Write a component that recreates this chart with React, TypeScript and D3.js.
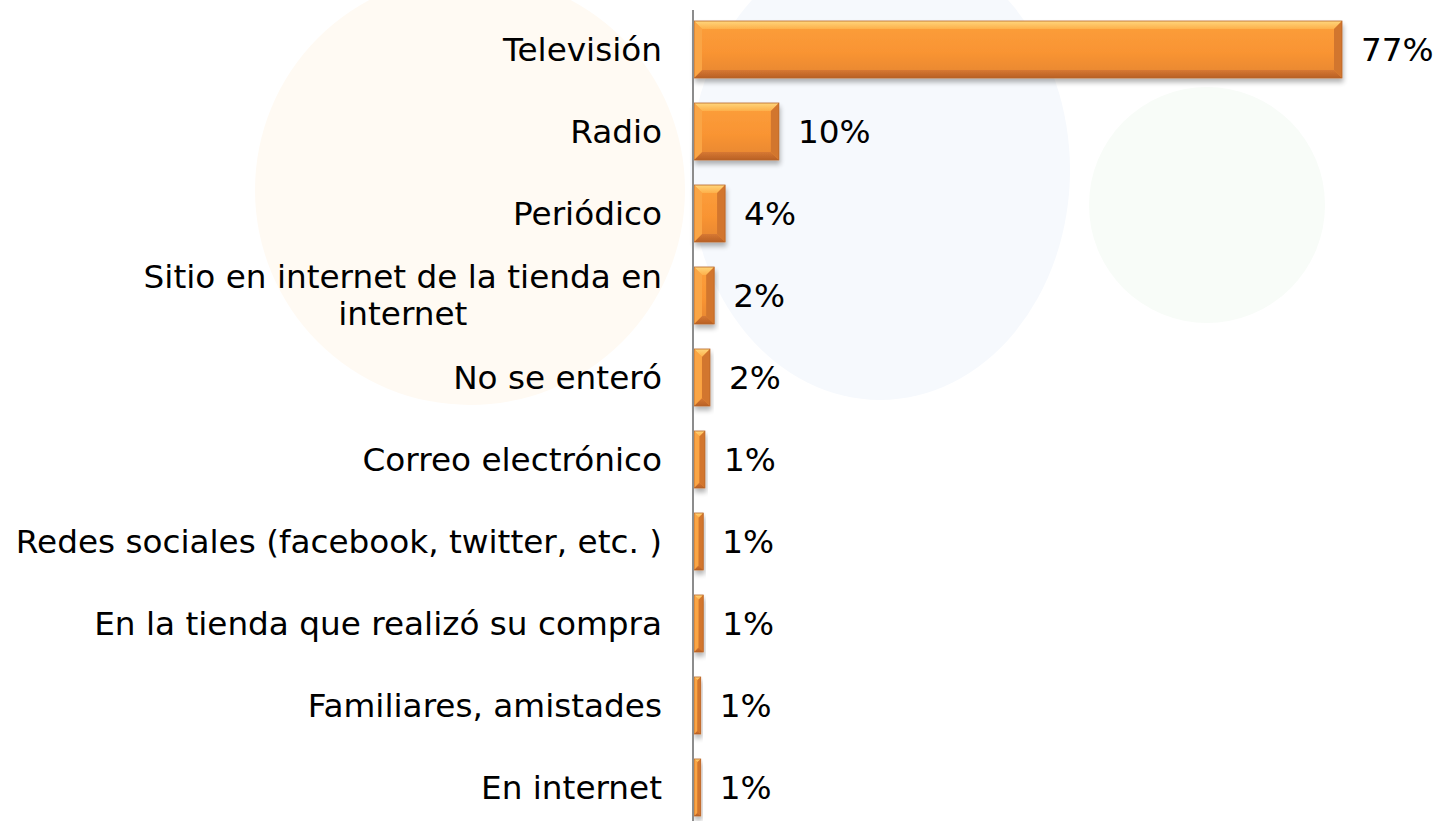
import React, { useEffect, useRef } from "react";
import * as d3 from "d3";

const categories: string[][] = [
  ["Televisión"],
  ["Radio"],
  ["Periódico"],
  ["Sitio en internet de la tienda en", "internet"],
  ["No se enteró"],
  ["Correo electrónico"],
  ["Redes sociales (facebook, twitter, etc. )"],
  ["En la tienda que realizó su compra"],
  ["Familiares, amistades"],
  ["En internet"],
];
const values: number[] = [77.1, 10.1, 3.7, 2.4, 1.9, 1.3, 1.1, 1.1, 0.8, 0.8];
const valueLabels: string[] = ["77%", "10%", "4%", "2%", "2%", "1%", "1%", "1%", "1%", "1%"];

const W = 1441;
const H = 821;
const FONT = "'DejaVu Sans', Verdana, sans-serif";
const FS = 32.7;

export default function App() {
  const ref = useRef<SVGSVGElement | null>(null);

  useEffect(() => {
    const svg = d3.select(ref.current);
    svg.selectAll("*").remove();

    const defs = svg.append("defs");
    const sh = defs.append("filter").attr("id", "shadow").attr("x", "-20%").attr("y", "-20%").attr("width", "140%").attr("height", "160%");
    sh.append("feGaussianBlur").attr("in", "SourceAlpha").attr("stdDeviation", 2.5).attr("result", "b");
    sh.append("feOffset").attr("in", "b").attr("dx", 1).attr("dy", 4).attr("result", "o");
    sh.append("feComponentTransfer").attr("in", "o").attr("result", "o2")
      .append("feFuncA").attr("type", "linear").attr("slope", 0.3);
    const m = sh.append("feMerge");
    m.append("feMergeNode").attr("in", "o2");
    m.append("feMergeNode").attr("in", "SourceGraphic");

    const face = defs.append("linearGradient").attr("id", "face").attr("x1", 0).attr("y1", 0).attr("x2", 0).attr("y2", 1);
    face.append("stop").attr("offset", "0%").attr("stop-color", "#FC9F3C");
    face.append("stop").attr("offset", "55%").attr("stop-color", "#F99433");
    face.append("stop").attr("offset", "100%").attr("stop-color", "#E5852F");
    const top = defs.append("linearGradient").attr("id", "topb").attr("x1", 0).attr("y1", 0).attr("x2", 0).attr("y2", 1);
    top.append("stop").attr("offset", "0%").attr("stop-color", "#FFD67C");
    top.append("stop").attr("offset", "100%").attr("stop-color", "#FDB04A");
    const bot = defs.append("linearGradient").attr("id", "botb").attr("x1", 0).attr("y1", 0).attr("x2", 0).attr("y2", 1);
    bot.append("stop").attr("offset", "0%").attr("stop-color", "#D77832");
    bot.append("stop").attr("offset", "100%").attr("stop-color", "#B86026");

    // faint watermark background
    const bg = svg.append("g");
    bg.append("rect").attr("width", W).attr("height", H).attr("fill", "#ffffff");
    bg.append("circle").attr("cx", 470).attr("cy", 190).attr("r", 215).attr("fill", "#FFFAF3");
    bg.append("ellipse").attr("cx", 880).attr("cy", 170).attr("rx", 190).attr("ry", 230).attr("fill", "#F6F9FD");
    bg.append("circle").attr("cx", 1207).attr("cy", 205).attr("r", 118).attr("fill", "#F8FCF8");

    const x = d3.scaleLinear().domain([0, 80]).range([694, 694 + 80 * (648 / 77.1)]);
    const y = d3.scaleBand<number>()
      .domain(d3.range(categories.length))
      .range([8.5, 828.5])
      .paddingInner(0.305)
      .paddingOuter(0.1525);

    const bars = svg.append("g").selectAll("g").data(values).join("g").attr("filter", "url(#shadow)");
    bars.each(function (v, i) {
      const g = d3.select(this);
      const x0 = x(0), x1 = x(v);
      const y0 = y(i)!, y1 = y0 + y.bandwidth();
      const b = Math.min(8, (x1 - x0) / 2);
      const poly = (pts: number[][]) => pts.map((p) => p.join(",")).join(" ");
      g.append("rect").attr("x", x0).attr("y", y0).attr("width", x1 - x0).attr("height", y1 - y0).attr("fill", "url(#face)");
      g.append("polygon").attr("points", poly([[x0, y0], [x1, y0], [x1 - b, y0 + b], [x0 + b, y0 + b]])).attr("fill", "url(#topb)");
      g.append("polygon").attr("points", poly([[x0, y1], [x1, y1], [x1 - b, y1 - b], [x0 + b, y1 - b]])).attr("fill", "url(#botb)");
      g.append("polygon").attr("points", poly([[x0, y0], [x0 + b, y0 + b], [x0 + b, y1 - b], [x0, y1]])).attr("fill", "#FAA545");
      g.append("polygon").attr("points", poly([[x1, y0], [x1 - b, y0 + b], [x1 - b, y1 - b], [x1, y1]])).attr("fill", "#D2762E");
      g.append("rect").attr("x", x0).attr("y", y0).attr("width", x1 - x0).attr("height", y1 - y0)
        .attr("fill", "none").attr("stroke", "#B8652A").attr("stroke-width", 0.8);
    });

    // axis line
    svg.append("line").attr("x1", 693).attr("x2", 693).attr("y1", 10).attr("y2", H)
      .attr("stroke", "#8C8C8C").attr("stroke-width", 2);

    // category labels
    const labG = svg.append("g").attr("font-family", FONT).attr("font-size", FS).attr("fill", "#000");
    categories.forEach((lines, i) => {
      const cy = y(i)! + y.bandwidth() / 2;
      if (lines.length === 1) {
        labG.append("text").attr("x", 662).attr("y", cy).attr("dy", "0.35em").attr("text-anchor", "end").text(lines[0]);
      } else {
        const lh = 37;
        const t1 = labG.append("text").attr("x", 662).attr("y", cy - lh / 2).attr("dy", "0.35em").attr("text-anchor", "end").text(lines[0]);
        const w1 = (t1.node() as SVGTextElement).getComputedTextLength();
        for (let k = 1; k < lines.length; k++) {
          labG.append("text").attr("x", 662 - w1 / 2).attr("y", cy - lh / 2 + k * lh).attr("dy", "0.35em")
            .attr("text-anchor", "middle").text(lines[k]);
        }
      }
    });

    // value labels
    const valG = svg.append("g").attr("font-family", FONT).attr("font-size", FS).attr("fill", "#000");
    values.forEach((v, i) => {
      const cy = y(i)! + y.bandwidth() / 2;
      valG.append("text").attr("x", x(v) + 19).attr("y", cy).attr("dy", "0.35em").text(valueLabels[i]);
    });
  }, []);

  return (
    <svg
      ref={ref}
      width={W}
      height={H}
      style={{ position: "absolute", left: 0, top: 0, display: "block" }}
    />
  );
}
